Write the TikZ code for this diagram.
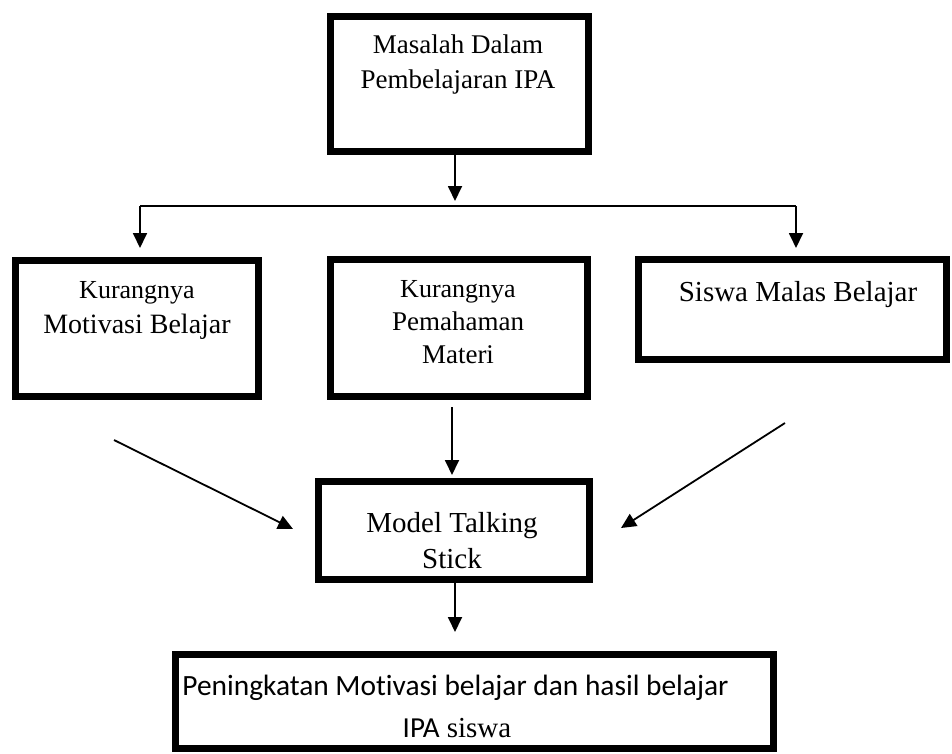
\documentclass[tikz,border=0pt]{standalone}
\usepackage{fontspec}
\setmainfont{Liberation Serif}
\newfontfamily\calib[Ligatures=NoCommon]{Carlito}
\usetikzlibrary{arrows.meta}
\begin{document}
\begin{tikzpicture}[x=1pt,y=-1pt,
  box/.style={draw=black,line width=6.5pt,rectangle,inner sep=0pt,fill=white},
  arr/.style={line width=1.8pt,-{Triangle[length=15pt,width=14pt]}},
  thin/.style={line width=1.8pt},
  txt/.style={anchor=base,inner sep=0pt}]
\useasboundingbox[fill=white] (0,0) rectangle (952,753);
% boxes
\node[box,minimum width=258pt,minimum height=135pt] (top) at (459.5,84) {};
\node[box,minimum width=243pt,minimum height=136pt] (left) at (137,328.5) {};
\node[box,minimum width=257pt,minimum height=137pt] (mid) at (459,328) {};
\node[box,minimum width=308pt,minimum height=100pt] (right) at (792.5,309.5) {};
\node[box,minimum width=271pt,minimum height=98pt] (model) at (454,530.5) {};
\node[box,minimum width=598pt,minimum height=94pt] (bottom) at (474.5,701.5) {};
% texts
\node[txt,font=\fontsize{27pt}{33pt}\selectfont] (t1) at (458,53) {Masalah Dalam};
\node[txt,font=\fontsize{27pt}{33pt}\selectfont] (t2) at (458,88) {Pembelajaran IPA};
\node[txt,font=\fontsize{26pt}{33pt}\selectfont] (l1) at (137,298) {Kurangnya};
\node[txt,font=\fontsize{28pt}{33pt}\selectfont] (l2) at (137,333) {Motivasi Belajar};
\node[txt,font=\fontsize{26pt}{33pt}\selectfont] (m1) at (458,297) {Kurangnya};
\node[txt,font=\fontsize{27pt}{33pt}\selectfont] (m2) at (458,330) {Pemahaman};
\node[txt,font=\fontsize{27pt}{33pt}\selectfont] (m3) at (458,363) {Materi};
\node[txt,font=\fontsize{29pt}{33pt}\selectfont] (r1) at (798,301) {Siswa Malas Belajar};
\node[txt,font=\fontsize{29pt}{33pt}\selectfont] (k1) at (452,532) {Model Talking};
\node[txt,font=\fontsize{29pt}{33pt}\selectfont] (k2) at (452,568) {Stick};
\node[txt,font=\calib\fontsize{29.4pt}{33pt}\selectfont] (b1) at (455.5,695) {Peningkatan Motivasi belajar dan hasil belajar};
\node[txt,font=\fontsize{29pt}{33pt}\selectfont] (b2) at (457,737) {{\calib IPA} siswa};
% coordinates
\coordinate (jt) at (455,201);
\coordinate (hl) at (140,206);
\coordinate (hr) at (796,206);
\coordinate (lt) at (140,248);
\coordinate (rt) at (796,248);
\coordinate (ms) at (452,407);
\coordinate (me) at (452,475);
\coordinate (ds1) at (114,440);
\coordinate (de1) at (293,529);
\coordinate (ds2) at (785,423);
\coordinate (de2) at (621,528);
\coordinate (bs) at (455,583);
\coordinate (be) at (455,632);
% connectors
\draw[arr] (top.south -| jt) -- (jt);
\draw[thin] (hl) -- (hr);
\draw[arr] (hl) -- (lt);
\draw[arr] (hr) -- (rt);
\draw[arr] (ms) -- (me);
\draw[arr] (ds1) -- (de1);
\draw[arr] (ds2) -- (de2);
\draw[arr] (bs) -- (be);
\end{tikzpicture}
\end{document}
